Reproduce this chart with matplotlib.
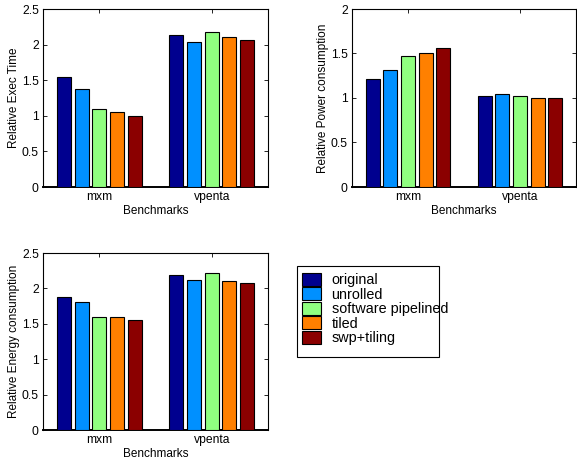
import numpy as np
import matplotlib
matplotlib.use("Agg")
import matplotlib.pyplot as plt
from matplotlib.patches import Patch, Rectangle

plt.rcParams["font.family"] = ["Liberation Sans", "DejaVu Sans"]

benchmarks = ["mxm", "vpenta"]
variants = ["original", "unrolled", "software pipelined", "tiled", "swp+tiling"]
colors = ["#00008f", "#0090ff", "#90ff80", "#ff8000", "#8b0000"]

exec_time = {"mxm": [1.55, 1.38, 1.09, 1.06, 1.00],
             "vpenta": [2.14, 2.03, 2.18, 2.11, 2.07]}
power = {"mxm": [1.21, 1.31, 1.47, 1.51, 1.56],
         "vpenta": [1.02, 1.05, 1.02, 1.00, 1.00]}
energy = {"mxm": [1.88, 1.81, 1.60, 1.60, 1.56],
          "vpenta": [2.19, 2.12, 2.22, 2.11, 2.07]}

W, H = 577, 461


def px_axes(fig, l, t, r, b):
    return fig.add_axes([l / W, 1 - b / H, (r - l) / W, (b - t) / H])


def draw(ax, data, ylabel, ymax, yticks):
    x = np.arange(1, len(benchmarks) + 1)
    step = 0.157
    bw = 0.125
    for i, (name, c) in enumerate(zip(variants, colors)):
        vals = [data[b][i] for b in benchmarks]
        ax.bar(x + (i - 2) * step, vals, width=bw, color=c,
               edgecolor="black", linewidth=0.8, zorder=3)
    ax.set_xlim(0.5, 2.5)
    ax.set_ylim(0, ymax)
    ax.set_xticks(x)
    ax.set_xticklabels(benchmarks)
    ax.set_yticks(yticks)
    ax.set_yticklabels([f"{v:g}" for v in yticks])
    ax.tick_params(direction="in", length=3, width=0.6, labelsize=8.7,
                   top=True, right=True, pad=3)
    for sp in ax.spines.values():
        sp.set_linewidth(0.8)
    ax.spines["bottom"].set_linewidth(1.4)
    ax.set_xlabel("Benchmarks", fontsize=8.5, labelpad=1)
    ax.set_ylabel(ylabel, fontsize=8.5, labelpad=1)


fig = plt.figure(figsize=(W / 100, H / 100), dpi=100)

ax1 = px_axes(fig, 43, 9, 268, 187)
draw(ax1, exec_time, "Relative Exec Time", 2.5, [0, 0.5, 1, 1.5, 2, 2.5])

ax2 = px_axes(fig, 352, 9, 576, 187)
draw(ax2, power, "Relative Power consumption", 2, [0, 0.5, 1, 1.5, 2])

ax3 = px_axes(fig, 43, 253, 268, 430)
draw(ax3, energy, "Relative Energy consumption", 2.5, [0, 0.5, 1, 1.5, 2, 2.5])

# legend box drawn separately (text runs past the right edge, as in the original)
fig.add_artist(Rectangle((297 / W, 1 - 357 / H), (439 - 297) / W, (357 - 266) / H,
                         transform=fig.transFigure, facecolor="white",
                         edgecolor="black", linewidth=0.8, zorder=1))
handles = [Patch(facecolor=c, edgecolor="black", linewidth=0.8, label=n)
           for n, c in zip(variants, colors)]
leg = fig.legend(handles=handles, loc="upper left",
                 bbox_to_anchor=(302 / W, 1 - 273 / H), fontsize=10.4,
                 frameon=False, handlelength=1.3, handleheight=1.0,
                 handletextpad=0.75, labelspacing=0.0, borderpad=0,
                 borderaxespad=0)
leg.set_zorder(2)

fig.savefig("out.png", dpi=100, facecolor="white")
